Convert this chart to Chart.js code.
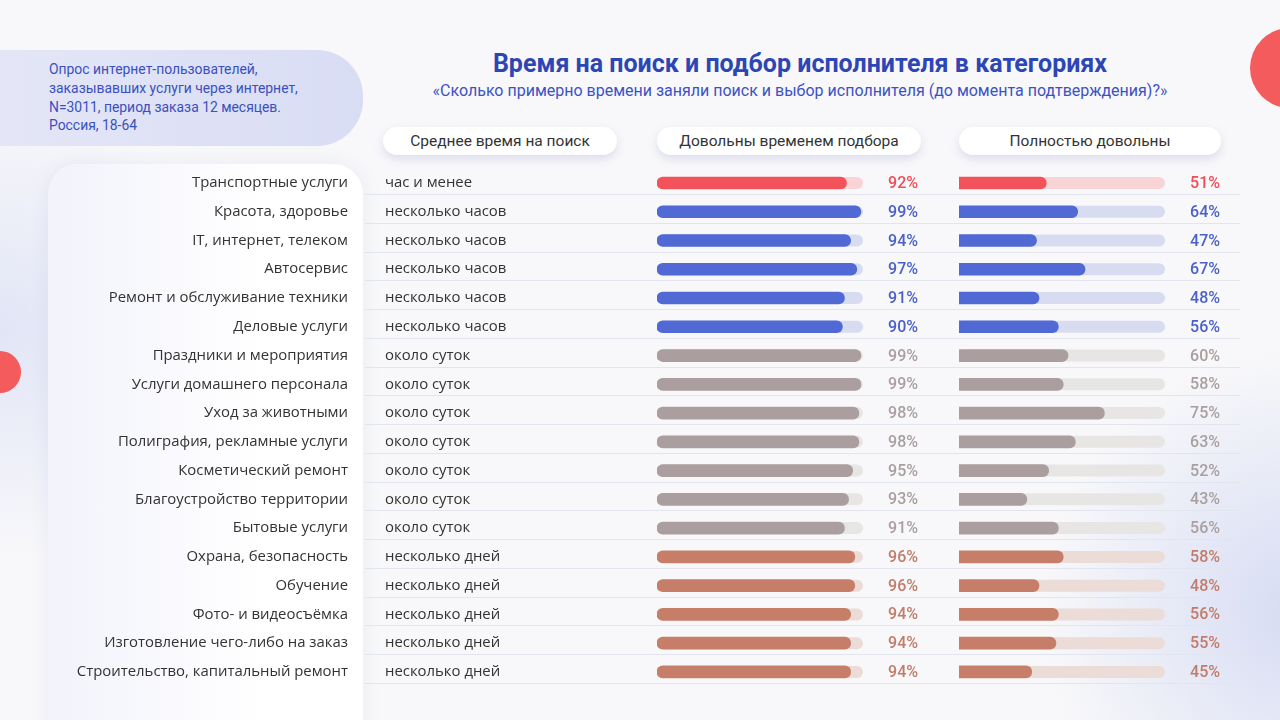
<!DOCTYPE html>
<html lang="ru">
<head>
<meta charset="utf-8">
<script src="https://cdn.jsdelivr.net/npm/chart.js@4"></script>
<style>
  html, body { margin: 0; padding: 0; }
  body {
    width: 1280px; height: 720px; overflow: hidden; position: relative;
    font-family: Roboto, "Open Sans", sans-serif;
    background:
      radial-gradient(circle at 1300px 610px, rgba(210,216,242,0.9) 0, rgba(210,216,242,0) 260px),
      radial-gradient(circle at 0px 330px, rgba(220,224,245,0.8) 0, rgba(220,224,245,0) 230px),
      #f8f8fa;
  }
  .info {
    position: absolute; left: 0; top: 50px; width: 363px; height: 96px;
    border-radius: 0 46px 46px 0;
    background: linear-gradient(90deg, #e4e6f7, #d9ddf4);
  }
  .info p {
    margin: 0; position: absolute; left: 49px; top: 10px;
    font-size: 13.9px; line-height: 18.8px; color: #3a50bf;
  }
  .card {
    position: absolute; left: 48px; top: 164px; width: 315px; height: 600px;
    border-radius: 30px;
    background: linear-gradient(90deg, #f2f3fb, #ffffff 70%);
    box-shadow: 0 0 18px rgba(120,130,190,0.12);
  }
  .title, .sub {
    position: absolute; left: 400px; width: 800px; text-align: center; margin: 0;
  }
  .title { top: 49px; font-size: 25px; font-weight: 700; color: #2d46b6; }
  .sub { top: 81px; font-size: 16px; color: #3b52c4; }
  .pill {
    position: absolute; top: 127px; height: 28px; line-height: 28px;
    border-radius: 14px; background: #fff; text-align: center;
    font-size: 15.5px; color: #333;
    box-shadow: 0 4px 10px rgba(90,100,180,0.18);
  }
  .dot { position: absolute; border-radius: 50%; background: #f35b5c; }
  canvas { position: absolute; }
</style>
</head>
<body>
<div class="info"><p>Опрос интернет-пользователей,<br>заказывавших услуги через интернет,<br>N=3011, период заказа 12 месяцев.<br>Россия, 18-64</p></div>
<div class="card"></div>
<div class="dot" style="left:1250px; top:28px; width:80px; height:80px;"></div>
<div class="dot" style="left:-21px; top:351px; width:42px; height:42px;"></div>
<div class="title">Время на поиск и подбор исполнителя в категориях</div>
<div class="sub">«Сколько примерно времени заняли поиск и выбор исполнителя (до момента подтверждения)?»</div>
<div class="pill" style="left:383px; width:234px;">Среднее время на поиск</div>
<div class="pill" style="left:657px; width:264px;">Довольны временем подбора</div>
<div class="pill" style="left:959px; width:262px;">Полностью довольны</div>

<div style="position:absolute; left:40px; top:150px; width:900px; height:560px;"><canvas id="timeChart"></canvas></div>
<div style="position:absolute; left:940px; top:150px; width:300px; height:560px;"><canvas id="fullChart"></canvas></div>

<script>
const categories = [
  'Транспортные услуги', 'Красота, здоровье', 'IT, интернет, телеком', 'Автосервис',
  'Ремонт и обслуживание техники', 'Деловые услуги', 'Праздники и мероприятия',
  'Услуги домашнего персонала', 'Уход за животными', 'Полиграфия, рекламные услуги',
  'Косметический ремонт', 'Благоустройство территории', 'Бытовые услуги',
  'Охрана, безопасность', 'Обучение', 'Фото- и видеосъёмка',
  'Изготовление чего-либо на заказ', 'Строительство, капитальный ремонт'
];
const searchTime = [
  'час и менее', 'несколько часов', 'несколько часов', 'несколько часов',
  'несколько часов', 'несколько часов', 'около суток', 'около суток', 'около суток',
  'около суток', 'около суток', 'около суток', 'около суток',
  'несколько дней', 'несколько дней', 'несколько дней', 'несколько дней', 'несколько дней'
];
const satisfiedTime = [92, 99, 94, 97, 91, 90, 99, 99, 98, 98, 95, 93, 91, 96, 96, 94, 94, 94];
const fullySatisfied = [51, 64, 47, 67, 48, 56, 60, 58, 75, 63, 52, 43, 56, 58, 48, 56, 55, 45];

// colour per search-time group: bar, track, label
const groupColors = {
  'час и менее':     ['#f4525a', '#f9d4d6', '#ee4d55'],
  'несколько часов': ['#5069d4', '#d7dcf1', '#4a61c9'],
  'около суток':     ['#aa9e9e', '#e8e5e5', '#a99f9f'],
  'несколько дней':  ['#c77e69', '#ecdcd8', '#c27c69']
};
const barColors = searchTime.map(t => groupColors[t][0]);
const trackColors = searchTime.map(t => groupColors[t][1]);
const labelColors = searchTime.map(t => groupColors[t][2]);

const labelFont = '14.9px "Open Sans"';

function roundBar(ctx, x0, x1, y, h) {
  ctx.beginPath();
  ctx.roundRect(x0, y - h / 2, x1 - x0, h, h / 2);
  ctx.fill();
}

// row text, tracks, separator lines and value labels
const rowDecor = {
  id: 'rowDecor',
  beforeDatasetsDraw(chart, args, opts) {
    const ctx = chart.ctx, xs = chart.scales.x, ys = chart.scales.y;
    ctx.save();
    ctx.strokeStyle = '#e3e5ee';
    ctx.lineWidth = 1;
    categories.forEach((c, i) => {
      const y = ys.getPixelForValue(i);
      ctx.beginPath();
      ctx.moveTo(opts.lineFrom, Math.round(y + 11) + 0.5);
      ctx.lineTo(chart.width, Math.round(y + 11) + 0.5);
      ctx.stroke();
      ctx.fillStyle = trackColors[i];
      roundBar(ctx, xs.getPixelForValue(xs.min), xs.getPixelForValue(100), y, 12);
    });
    if (opts.rowText) {
      ctx.font = labelFont;
      ctx.fillStyle = '#333';
      ctx.textBaseline = 'middle';
      categories.forEach((c, i) => {
        const y = ys.getPixelForValue(i);
        ctx.textAlign = 'right';
        ctx.fillText(c, 308, y);
        ctx.textAlign = 'left';
        ctx.fillText(searchTime[i], 345, y);
      });
    }
    ctx.restore();
  },
  afterDatasetsDraw(chart, args, opts) {
    const ctx = chart.ctx, ys = chart.scales.y;
    const data = chart.data.datasets[0].data;
    ctx.save();
    ctx.font = '500 16px Roboto';
    ctx.textAlign = 'right';
    ctx.textBaseline = 'middle';
    data.forEach((v, i) => {
      ctx.fillStyle = labelColors[i];
      ctx.fillText(v + '%', chart.chartArea.right + 55, ys.getPixelForValue(i) + 1);
    });
    ctx.restore();
  }
};

function makeChart(id, values, xMin, padding, decor) {
  new Chart(document.getElementById(id), {
    type: 'bar',
    data: {
      labels: categories,
      datasets: [{
        data: values,
        backgroundColor: barColors,
        barThickness: 12,
        borderRadius: 6,
        borderSkipped: false
      }]
    },
    options: {
      indexAxis: 'y',
      responsive: true,
      maintainAspectRatio: false,
      animation: false,
      layout: { padding: padding },
      plugins: {
        legend: { display: false },
        tooltip: { enabled: false },
        rowDecor: decor
      },
      scales: {
        x: { display: false, min: xMin, max: 100 },
        y: { display: false }
      }
    },
    plugins: [rowDecor]
  });
}

makeChart('timeChart', satisfiedTime, 0,
  { left: 617, right: 77, top: 18.6, bottom: 23.7 },
  { lineFrom: 325, rowText: true });
makeChart('fullChart', fullySatisfied, 15,
  { left: 19, right: 75, top: 18.6, bottom: 23.7 },
  { lineFrom: 0, rowText: false });
</script>
</body>
</html>
